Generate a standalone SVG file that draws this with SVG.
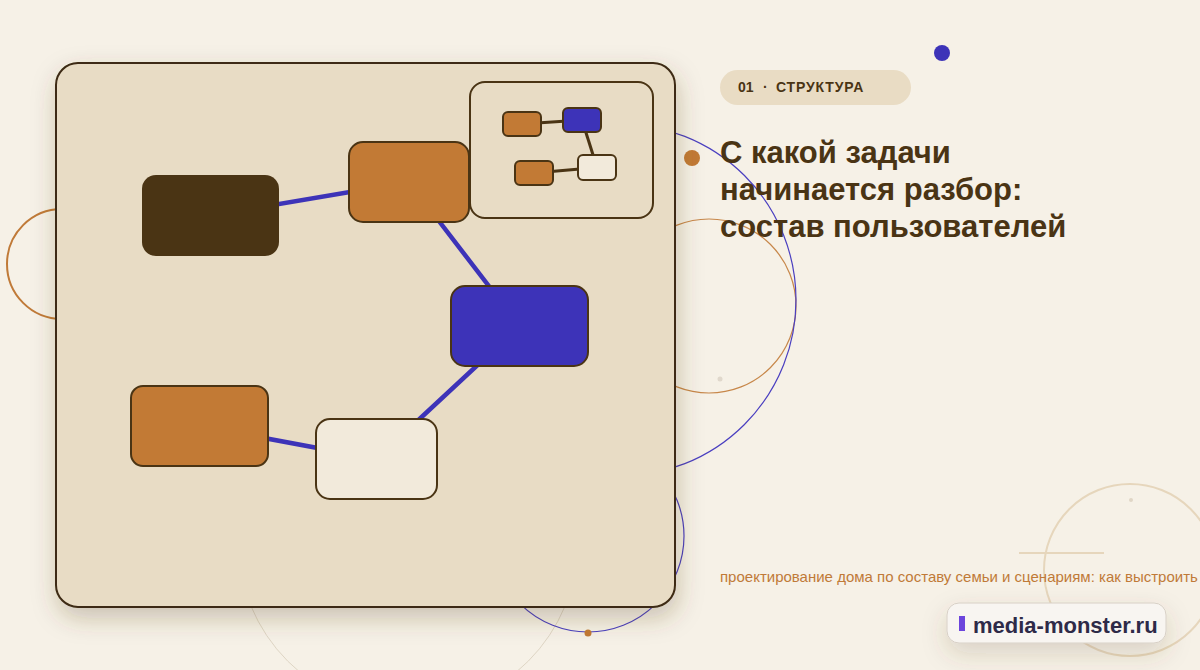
<svg xmlns="http://www.w3.org/2000/svg" width="1200" height="670" viewBox="0 0 1200 670">
  <defs>
    <filter id="shadow" x="-20%" y="-20%" width="140%" height="140%">
      <feDropShadow dx="2" dy="10" stdDeviation="12" flood-color="#5a4526" flood-opacity="0.28"/>
    </filter>
    <filter id="pillShadow" x="-30%" y="-60%" width="160%" height="260%">
      <feDropShadow dx="0" dy="10" stdDeviation="12" flood-color="#5a4526" flood-opacity="0.18"/>
    </filter>
    <style>
      .node { stroke: #4a3414; stroke-width: 2; }
      .orange { fill: #c27a35; }
      .blue { fill: #3d33b8; }
      .dark { fill: #4a3414; }
      .light { fill: #f2eadb; }
      .edge { stroke: #3d33b8; stroke-width: 4.5; fill: none; stroke-linecap: round; }
      .medge { stroke: #4a3414; stroke-width: 3; fill: none; }
      .mnode { stroke: #4a3414; stroke-width: 2; }
      .title { font-family: "Liberation Sans", Arial, sans-serif; font-weight: bold; font-size: 31px; fill: #4a3414; }
      .deco { fill: none; }
    </style>
  </defs>

  <rect x="0" y="0" width="1200" height="670" fill="#f6f1e7"/>

  <!-- decorative background -->
  <g id="decor">
    <circle class="deco" cx="62" cy="264" r="55" stroke="#c07a38" stroke-width="2"/>
    <circle class="deco" cx="408" cy="541" r="170" stroke="#ded5c4" stroke-width="1"/>
    <circle class="deco" cx="709" cy="306" r="87" stroke="#c7874a" stroke-width="1.2"/>
    <circle class="deco" cx="620" cy="300" r="176" stroke="#4a3fc0" stroke-width="1.2"/>
    <circle class="deco" cx="588" cy="536" r="96" stroke="#4a3fc0" stroke-width="1.2"/>
    <circle cx="588" cy="633" r="3.5" fill="#c27a35"/>
    <circle cx="720" cy="379" r="2.5" fill="#e0d8cc"/>
    <circle class="deco" cx="1130" cy="570" r="86" stroke="#e6d6bc" stroke-width="2"/>
    <circle cx="1131" cy="500" r="2" fill="#e0d6c6"/>
    <line x1="1019" y1="553" x2="1104" y2="553" stroke="#e6d6bc" stroke-width="2"/>
    <circle cx="942" cy="53" r="8" fill="#3d33b8"/>
    <circle cx="692" cy="158" r="8" fill="#c27a35"/>
  </g>

  <!-- main panel -->
  <g id="panel">
    <rect x="56" y="63" width="619" height="544" rx="22" fill="#e8dcc5" stroke="#3d2a12" stroke-width="2" filter="url(#shadow)"/>
  </g>

  <!-- connectors -->
  <g id="connectors">
    <line class="edge" x1="210.5" y1="215.5" x2="409" y2="182"/>
    <line class="edge" x1="409" y1="182" x2="519.5" y2="326"/>
    <line class="edge" x1="519.5" y1="326" x2="376.5" y2="459"/>
    <line class="edge" x1="376.5" y1="459" x2="199.5" y2="426"/>
  </g>

  <!-- nodes -->
  <g id="node-dark"><rect class="dark" x="142" y="175" width="137" height="81" rx="14"/></g>
  <g id="node-orange-top"><rect class="node orange" x="349" y="142" width="120" height="80" rx="14"/></g>
  <g id="node-blue"><rect class="node blue" x="451" y="286" width="137" height="80" rx="14"/></g>
  <g id="node-light"><rect class="node light" x="316" y="419" width="121" height="80" rx="14"/></g>
  <g id="node-orange-bottom"><rect class="node orange" x="131" y="386" width="137" height="80" rx="12"/></g>

  <!-- minimap inset -->
  <g id="minimap">
    <rect x="470" y="82" width="183" height="136" rx="15" fill="#e8dcc5" stroke="#4a3414" stroke-width="2"/>
    <g id="minimap-connectors">
      <line class="medge" x1="522" y1="124" x2="582" y2="120"/>
      <line class="medge" x1="582" y1="120" x2="597" y2="167.5"/>
      <line class="medge" x1="597" y1="167.5" x2="534" y2="173"/>
    </g>
    <g id="mini-orange-1"><rect class="mnode orange" x="503" y="112" width="38" height="24" rx="5"/></g>
    <g id="mini-blue"><rect class="mnode blue" x="563" y="108" width="38" height="24" rx="5"/></g>
    <g id="mini-light"><rect class="mnode light" x="578" y="155" width="38" height="25" rx="5"/></g>
    <g id="mini-orange-2"><rect class="mnode orange" x="515" y="161" width="38" height="24" rx="5"/></g>
  </g>

  <!-- badge -->
  <g id="badge">
    <rect x="720" y="70" width="191" height="35" rx="17.5" fill="#e9dcc4"/>
    <text font-family="Liberation Sans, Arial, sans-serif" font-weight="bold" font-size="14" fill="#4a3414" y="92">
      <tspan x="738">01</tspan><tspan x="763">·</tspan><tspan x="776" letter-spacing="0.85">СТРУКТУРА</tspan>
    </text>
  </g>

  <!-- title -->
  <g id="title">
    <text class="title" x="720" y="163">С какой задачи</text>
    <text class="title" x="720" y="200">начинается разбор:</text>
    <text class="title" x="720" y="237">состав пользователей</text>
  </g>

  <!-- subtitle -->
  <g id="subtitle">
    <text x="720" y="582" font-family="Liberation Sans, Arial, sans-serif" font-size="15" fill="#c07a38">проектирование дома по составу семьи и сценариям: как выстроить</text>
  </g>

  <!-- logo -->
  <g id="logo">
    <rect x="947" y="603" width="219" height="40" rx="12" fill="#f8f5f1" stroke="#d8d0c6" stroke-width="1" filter="url(#pillShadow)"/>
    <rect x="959" y="616" width="6" height="15" fill="#6c45dc"/>
    <text x="973" y="633" font-family="Liberation Sans, Arial, sans-serif" font-weight="bold" font-size="22" fill="#2e2a48">media-monster.ru</text>
  </g>
</svg>
